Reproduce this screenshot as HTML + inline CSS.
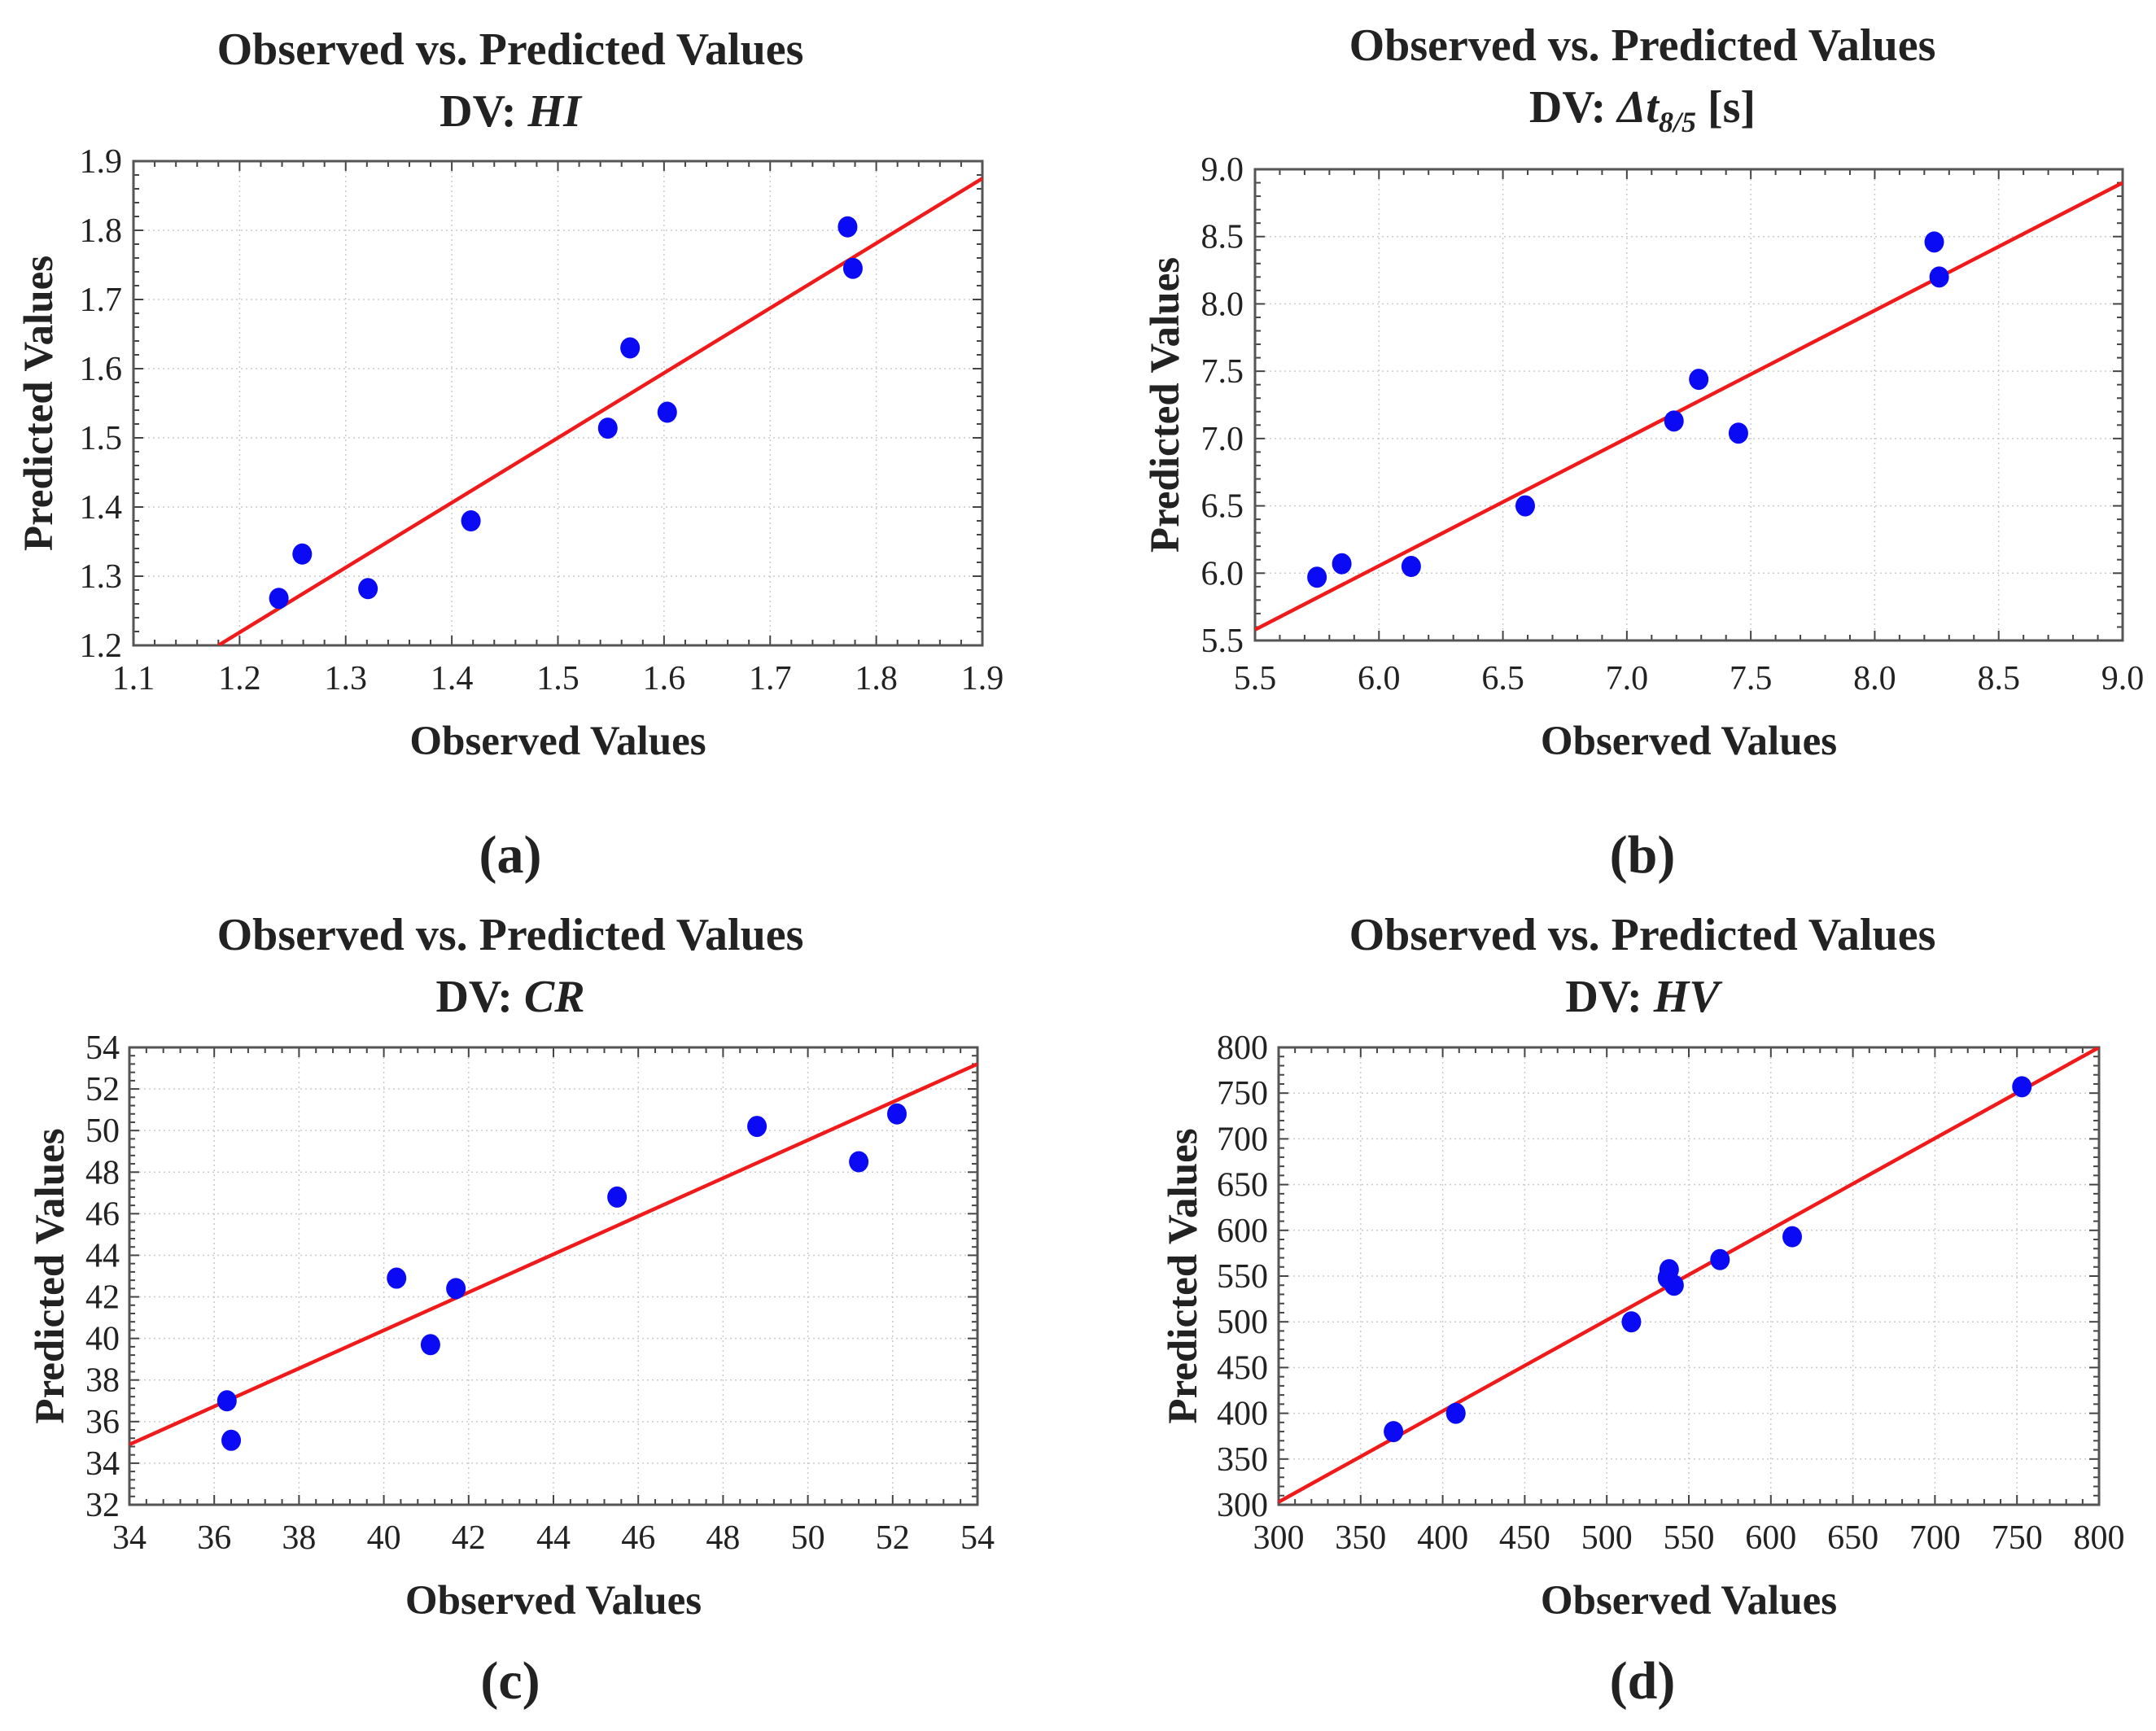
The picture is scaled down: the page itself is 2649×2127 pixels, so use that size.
<!DOCTYPE html>
<html><head><meta charset="utf-8"><style>
html,body{margin:0;padding:0;background:#fff;}
svg{display:block;}
text{font-family:"Liberation Serif",serif;fill:#222;}
</style></head><body>
<svg id="fig" width="2649" height="2127" viewBox="0 0 2649 2127" xmlns="http://www.w3.org/2000/svg"></svg>
<script>
// Panel (a) HI
const aObs=[1.237,1.259,1.321,1.418,1.547,1.568,1.603,1.773,1.778];
const aPred=[1.268,1.332,1.282,1.380,1.514,1.630,1.537,1.805,1.745];
const aXTicks=[1.1,1.2,1.3,1.4,1.5,1.6,1.7,1.8,1.9];
const aYTicks=[1.2,1.3,1.4,1.5,1.6,1.7,1.8,1.9];
const aFit=[1.18,1.2,1.9,1.875];
// Panel (b) dt8/5
const bObs=[5.75,5.85,6.13,6.59,7.19,7.29,7.45,8.24,8.26];
const bPred=[5.97,6.07,6.05,6.50,7.13,7.44,7.04,8.46,8.20];
const bXTicks=[5.5,6.0,6.5,7.0,7.5,8.0,8.5,9.0];
const bYTicks=[5.5,6.0,6.5,7.0,7.5,8.0,8.5,9.0];
const bFit=[5.5,5.58,9.0,8.9];
// Panel (c) CR
const cObs=[36.3,36.4,40.3,41.1,41.7,45.5,48.8,51.2,52.1];
const cPred=[37.0,35.1,42.9,39.7,42.4,46.8,50.2,48.5,50.8];
const cXTicks=[34,36,38,40,42,44,46,48,50,52,54];
const cYTicks=[32,34,36,38,40,42,44,46,48,50,52,54];
const cFit=[34,34.9,54,53.2];
// Panel (d) HV
const dObs=[370,408,515,537,538,541,569,613,753];
const dPred=[380,400,500,548,557,540,568,593,757];
const dXTicks=[300,350,400,450,500,550,600,650,700,750,800];
const dYTicks=[300,350,400,450,500,550,600,650,700,750,800];
const dFit=[300,303,800,800];

const NS="http://www.w3.org/2000/svg";
const svg=document.getElementById('fig');
function el(tag,attrs,parent,txt){const e=document.createElementNS(NS,tag);for(const k in attrs)e.setAttribute(k,attrs[k]);if(txt!==undefined)e.textContent=txt;(parent||svg).appendChild(e);return e;}

function panel(id,box,obs,pred,xt,yt,fit,dec,titleDV,cx,tY,xtY,ytX,lblY,yTitleX,tickFont){
  const g=el('g',{});
  
  
  const [L,T,R,B]=box;
  const x0=xt[0],x1=xt[xt.length-1],y0=yt[0],y1=yt[yt.length-1];
  const sx=v=>L+(v-x0)/(x1-x0)*(R-L);
  const sy=v=>B-(v-y0)/(y1-y0)*(B-T);
  xt.forEach(v=>{const l=el('line',{x1:sx(v),x2:sx(v),y1:T,y2:B,stroke:'#ccc','stroke-width':1.5,'stroke-dasharray':'2 4'},g);});
  yt.forEach(v=>{const l=el('line',{x1:L,x2:R,y1:sy(v),y2:sy(v),stroke:'#ccc','stroke-width':1.5,'stroke-dasharray':'2 4'},g);});
  const nx=(xt.length-1)*5, ny=(yt.length-1)*5;
  for(let i=0;i<=nx;i++){const x=L+i*(R-L)/nx;const len=i%5==0?12:7;
    el('line',{x1:x,x2:x,y1:T,y2:T+len,stroke:'#444','stroke-width':2},g);
    el('line',{x1:x,x2:x,y1:B,y2:B-len,stroke:'#444','stroke-width':2},g);}
  for(let i=0;i<=ny;i++){const y=T+i*(B-T)/ny;const len=i%5==0?12:7;
    el('line',{x1:L,x2:L+len,y1:y,y2:y,stroke:'#444','stroke-width':2},g);
    el('line',{x1:R,x2:R-len,y1:y,y2:y,stroke:'#444','stroke-width':2},g);}
  const fr=el('rect',{x:L,y:T,width:R-L,height:B-T,fill:'none',stroke:'#555','stroke-width':3},g);
  
  xt.forEach(v=>{const t=el('text',{x:sx(v),y:xtY,'font-size':42,'text-anchor':'middle','font-family':tickFont},g,v.toFixed(dec));});
  yt.forEach(v=>{const t=el('text',{x:ytX,y:sy(v)+14,'font-size':42,'text-anchor':'end','font-family':tickFont},g,v.toFixed(dec));});
  const cp=el('clipPath',{id:'clip'+id},g);el('rect',{x:L,y:T,width:R-L,height:B-T},cp);
  const fl=el('line',{x1:sx(fit[0]),y1:sy(fit[1]),x2:sx(fit[2]),y2:sy(fit[3]),stroke:'#f01a1a','stroke-width':4.5,'clip-path':'url(#clip'+id+')'},g);
  
  obs.forEach((v,i)=>{const c=el('ellipse',{cx:sx(v),cy:sy(pred[i]),rx:12,ry:13,fill:'#0a0af5'},g);
    });
  const t1=el('text',{x:cx,y:tY,'font-size':56,'font-weight':'bold','text-anchor':'middle'},g,'Observed vs. Predicted Values');
  
  const t2=el('text',{x:cx,y:tY+76,'font-size':56,'font-weight':'bold','text-anchor':'middle'},g);
  
  t2.innerHTML=titleDV;
  const xa=el('text',{x:(L+R)/2,y:xtY+80,'font-size':51,'font-weight':'bold','text-anchor':'middle'},g,'Observed Values');
  
  const yx=yTitleX, ym=(T+B)/2;
  const ya=el('text',{x:yx,y:ym,'font-size':51,'font-weight':'bold','text-anchor':'middle',transform:'rotate(-90 '+yx+' '+ym+')'},g,'Predicted Values');
  
  const lb=el('text',{x:cx,y:lblY,'font-size':66,'font-weight':'bold','text-anchor':'middle'},g,'('+id+')');
  
}
const SANS='"Liberation Sans",sans-serif', SERIF='"Liberation Serif",serif';
panel('a',[164,198,1207,793],aObs,aPred,aXTicks,aYTicks,aFit,1,'DV: <tspan font-style="italic">HI</tspan>',627,79,847,150,1072,64,SANS);
panel('b',[1542,208,2608,787],bObs,bPred,bXTicks,bYTicks,bFit,1,'DV: <tspan font-style="italic">Δt</tspan><tspan font-size="36" font-style="italic" dy="12">8/5</tspan><tspan dy="-12"> [s]</tspan>',2018,74,847,1528,1072,1448,SERIF);
panel('c',[159,1287,1201,1849],cObs,cPred,cXTicks,cYTicks,cFit,0,'DV: <tspan font-style="italic">CR</tspan>',627,1167,1903,147,2087,78,SERIF);
panel('d',[1571,1287,2579,1849],dObs,dPred,dXTicks,dYTicks,dFit,0,'DV: <tspan font-style="italic">HV</tspan>',2018,1167,1903,1558,2087,1470,SERIF);
</script>
</body></html>
